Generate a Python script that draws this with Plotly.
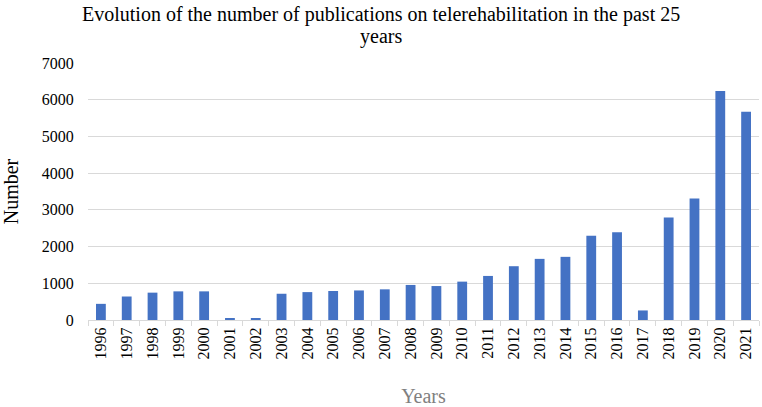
import plotly.graph_objects as go

years = [str(y) for y in range(1996, 2022)]
counts = [440, 640, 745, 780, 780, 55, 55, 715, 760, 790, 805, 835,
          955, 925, 1045, 1200, 1465, 1665, 1720, 2295, 2390, 260,
          2790, 3310, 6235, 5670]

title_lines = ["Evolution of the number of publications on telerehabilitation in the past 25",
               "years"]

fig = go.Figure(go.Bar(x=years, y=counts, marker_color="#4472C4",
                       marker_line_width=0))

serif = "Liberation Serif"
L, R, T, B = 88, 3, 63, 87
W, H = 762, 407
pw, ph = W - L - R, H - T - B

fig.update_layout(
    template="none",
    width=W, height=H,
    margin=dict(l=L, r=R, t=T, b=B),
    paper_bgcolor="white", plot_bgcolor="white",
    bargap=0.62,
    showlegend=False,
    font=dict(family=serif, color="black", size=16),
)
for line, cy in zip(title_lines, [14, 37]):
    fig.add_annotation(
        text=line, xref="paper", yref="paper",
        x=(381 - L) / pw, y=1 + (T - cy) / ph, xanchor="center", yanchor="middle",
        showarrow=False, align="center",
        font=dict(family=serif, size=20, color="black"),
    )
fig.update_xaxes(
    type="category", tickangle=-90, tickson="boundaries",
    ticks="outside", ticklen=5, tickcolor="#d9d9d9",
    showline=True, linecolor="#d9d9d9", linewidth=1,
    showgrid=False, zeroline=False,
    tickfont=dict(family=serif, size=16, color="black"),
    title=dict(text="Years", font=dict(family=serif, size=20, color="#808080"),
               standoff=30),
)
fig.update_yaxes(
    range=[0, 7000], dtick=1000,
    showgrid=True, gridcolor="#d9d9d9", gridwidth=1,
    zeroline=False, showline=False, ticks="outside", ticklen=10,
    tickcolor="rgba(0,0,0,0)",
    tickfont=dict(family=serif, size=16, color="black"),
    title=dict(text="Number", font=dict(family=serif, size=20, color="black"),
               standoff=22),
)

fig.write_html("out.html", config={"displayModeBar": False},
               post_script="document.body.style.margin='0';document.body.style.overflow='hidden';")
